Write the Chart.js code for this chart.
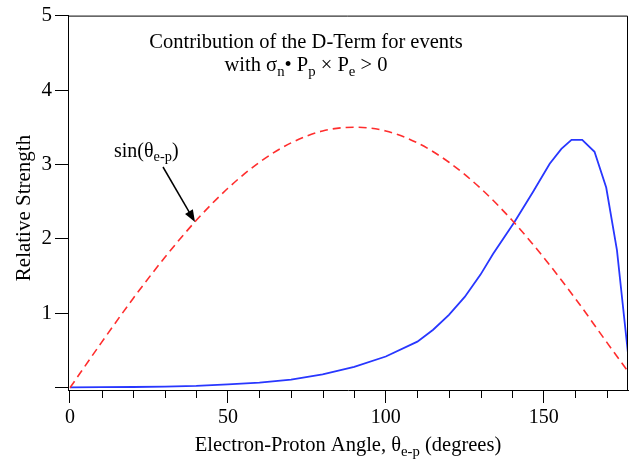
<!DOCTYPE html>
<html><head><meta charset="utf-8">
<script src="https://cdn.jsdelivr.net/npm/chart.js@4.4.1/dist/chart.umd.min.js"></script>
<style>html,body{margin:0;padding:0;background:#fff;}#wrap{width:630px;height:459px;}</style>
</head><body><div id="wrap"><canvas id="c" width="630" height="459"></canvas></div>
<script>
// ---- data ----
const sinAngles = [0,10,20,30,40,50,60,70,80,90,100,110,120,130,140,150,160,170,176.7];
const sinValues = [0,0.61,1.20,1.75,2.25,2.68,3.03,3.29,3.45,3.50,3.45,3.29,3.03,2.68,2.25,1.75,1.20,0.61,0.22];
const dAngles = [0,10,20,30,40,50,60,70,80,90,100,110,115,120,125,130,134,140.8,146.6,151.9,155.6,158.8,162.2,166.1,169.8,173.2,176.7];
const dValues = [0.005,0.008,0.01,0.015,0.025,0.045,0.07,0.11,0.18,0.28,0.42,0.62,0.78,0.98,1.22,1.52,1.80,2.23,2.63,3.01,3.21,3.33,3.33,3.17,2.69,1.85,0.46];
const xMajorTicks = [0,50,100,150];
const xMinorTicks = [10,20,30,40,60,70,80,90,110,120,130,140,160,170];
const yTicks = [0,1,2,3,4,5];
const yTickLabels = ['', '1', '2', '3', '4', '5'];
const titleLine1 = [['Contribution of the D-Term for events',0]];
const titleLine2 = [['with \u03c3',0],['n',1],['\u2022 P',0],['p',1],[' \u00d7 P',0],['e',1],[' > 0',0]];
const xTitle = [['Electron-Proton Angle, \u03b8',0],['e-p',1],[' (degrees)',0]];
const yTitle = 'Relative Strength';
const annot = [['sin(\u03b8',0],['e-p',1],[')',0]];

const FONT = '"Liberation Serif", "Times New Roman", serif';

function drawRich(ctx, segs, x, y, size, align) {
  let total = 0;
  const parts = segs.map(([t, sub]) => {
    const s = sub ? size * 0.72 : size;
    ctx.font = s + 'px ' + FONT;
    const w = ctx.measureText(t).width;
    total += w;
    return {t, s, w, dy: sub ? size * 0.22 : 0};
  });
  let cx = align === 'center' ? x - total / 2 : x;
  ctx.textBaseline = 'alphabetic';
  ctx.textAlign = 'left';
  ctx.fillStyle = '#000';
  parts.forEach(p => {
    ctx.font = p.s + 'px ' + FONT;
    ctx.fillText(p.t, cx, y + p.dy);
    cx += p.w;
  });
}

const decor = {
  id: 'decor',
  afterDraw(chart) {
    const ctx = chart.ctx;
    const a = chart.chartArea;
    const xs = chart.scales.x;
    ctx.save();
    // frame top & right
    ctx.strokeStyle = '#000';
    ctx.lineWidth = 1;
    ctx.beginPath();
    ctx.moveTo(a.left, a.top + 0.5);
    ctx.lineTo(a.right - 0.5, a.top + 0.5);
    ctx.lineTo(a.right - 0.5, a.bottom);
    ctx.stroke();
    // minor ticks
    ctx.beginPath();
    xMinorTicks.forEach(v => {
      const px = Math.round(xs.getPixelForValue(v)) + 0.5;
      ctx.moveTo(px, a.bottom);
      ctx.lineTo(px, a.bottom + 8);
    });
    ctx.stroke();
    // titles
    drawRich(ctx, titleLine1, 306, 48, 20.5, 'center');
    drawRich(ctx, titleLine2, 306, 71, 20.5, 'center');
    drawRich(ctx, xTitle, (a.left + a.right) / 2, 451, 20.5, 'center');
    ctx.save();
    ctx.translate(30, 208);
    ctx.rotate(-Math.PI / 2);
    ctx.font = '21px ' + FONT;
    ctx.textAlign = 'center';
    ctx.textBaseline = 'alphabetic';
    ctx.fillStyle = '#000';
    ctx.fillText(yTitle, 0, 0);
    ctx.restore();
    // annotation + arrow
    drawRich(ctx, annot, 114, 157, 20, 'left');
    const x0 = 163, y0 = 167, x1 = 195, y1 = 222;
    const ang = Math.atan2(y1 - y0, x1 - x0);
    ctx.strokeStyle = '#000';
    ctx.lineWidth = 1.5;
    ctx.beginPath();
    ctx.moveTo(x0, y0);
    ctx.lineTo(x1 - 8 * Math.cos(ang), y1 - 8 * Math.sin(ang));
    ctx.stroke();
    ctx.fillStyle = '#000';
    ctx.beginPath();
    ctx.moveTo(x1, y1);
    ctx.lineTo(x1 - 12 * Math.cos(ang) + 4.5 * Math.sin(ang), y1 - 12 * Math.sin(ang) - 4.5 * Math.cos(ang));
    ctx.lineTo(x1 - 12 * Math.cos(ang) - 4.5 * Math.sin(ang), y1 - 12 * Math.sin(ang) + 4.5 * Math.cos(ang));
    ctx.closePath();
    ctx.fill();
    ctx.restore();
  }
};

new Chart(document.getElementById('c'), {
  type: 'line',
  data: {
    datasets: [
      {
        data: sinAngles.map((x, i) => ({x, y: sinValues[i]})),
        borderColor: 'rgb(255,45,45)',
        borderWidth: 1.6,
        borderDash: [8, 5],
        pointRadius: 0,
        cubicInterpolationMode: 'monotone',
        fill: false
      },
      {
        data: dAngles.map((x, i) => ({x, y: dValues[i]})),
        borderColor: 'rgb(40,55,255)',
        borderWidth: 1.8,
        pointRadius: 0,
        tension: 0,
        fill: false
      }
    ]
  },
  options: {
    responsive: false,
    animation: false,
    devicePixelRatio: 1,
    layout: {padding: {top: 14, right: 2, left: 0, bottom: 0}},
    plugins: {legend: {display: false}, tooltip: {enabled: false}, title: {display: false}},
    scales: {
      x: {
        type: 'linear',
        min: -0.63,
        max: 176.7,
        afterBuildTicks: s => { s.ticks = xMajorTicks.map(v => ({value: v})); },
        afterFit: s => { s.height = 69; },
        ticks: {
          font: {family: FONT, size: 20},
          color: '#000',
          padding: 3,
          maxRotation: 0,
          autoSkip: false
        },
        grid: {drawOnChartArea: false, drawTicks: true, tickLength: 13, color: '#000', tickWidth: 1},
        border: {display: true, color: '#000', width: 1}
      },
      y: {
        type: 'linear',
        min: -0.03,
        max: 5,
        afterBuildTicks: s => { s.ticks = yTicks.map(v => ({value: v})); },
        afterFit: s => { s.width = 68; },
        ticks: {
          font: {family: FONT, size: 21},
          color: '#000',
          padding: 3,
          callback: (v) => yTickLabels[yTicks.indexOf(v)]
        },
        grid: {drawOnChartArea: false, drawTicks: true, tickLength: 13, color: '#000', tickWidth: 1},
        border: {display: true, color: '#000', width: 1}
      }
    }
  },
  plugins: [decor]
});
</script>
</body></html>
